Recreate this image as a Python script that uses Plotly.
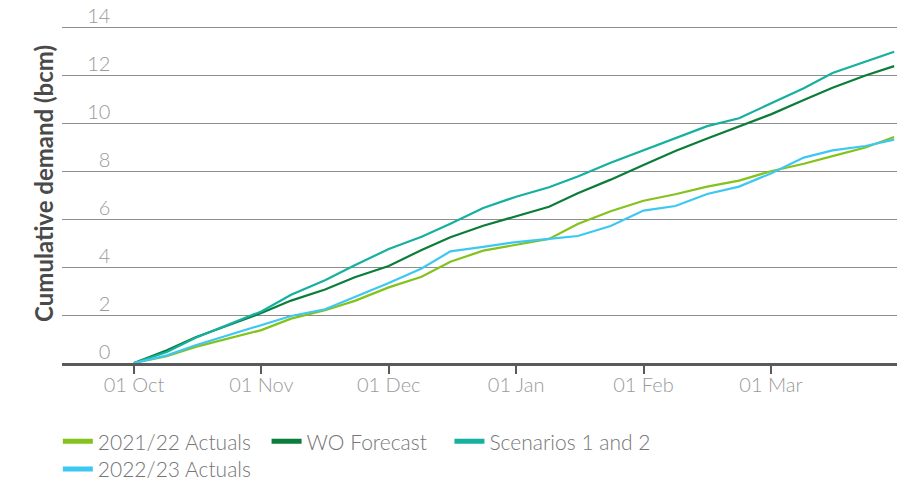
import pandas as pd
import plotly.graph_objects as go

# Sample dates through the gas year (October to March)
dates = [
    "2022-10-01", "2022-10-09", "2022-10-16", "2022-10-24",
    "2022-11-01", "2022-11-08", "2022-11-16", "2022-11-23",
    "2022-12-01", "2022-12-09", "2022-12-16", "2022-12-24",
    "2023-01-01", "2023-01-09", "2023-01-16", "2023-01-24",
    "2023-02-01", "2023-02-08", "2023-02-15", "2023-02-22",
    "2023-03-01", "2023-03-09", "2023-03-16", "2023-03-24",
    "2023-03-31",
]

# Cumulative demand (bcm)
actuals_2122 = [0.00, 0.28, 0.67, 1.02, 1.37, 1.85, 2.20, 2.59, 3.15, 3.59,
                4.22, 4.68, 4.93, 5.17, 5.79, 6.32, 6.76, 7.03, 7.35, 7.60,
                7.99, 8.30, 8.62, 8.98, 9.42]
wo_forecast = [0.00, 0.53, 1.07, 1.57, 2.08, 2.60, 3.06, 3.57, 4.04, 4.71,
               5.24, 5.72, 6.10, 6.51, 7.07, 7.64, 8.25, 8.83, 9.35, 9.84,
               10.36, 10.96, 11.47, 11.98, 12.37]
scenarios_1_2 = [0.00, 0.46, 1.05, 1.60, 2.15, 2.84, 3.45, 4.07, 4.75, 5.26,
                 5.80, 6.46, 6.93, 7.32, 7.77, 8.34, 8.85, 9.37, 9.87, 10.20,
                 10.80, 11.45, 12.08, 12.54, 12.97]
actuals_2223 = [0.00, 0.32, 0.74, 1.16, 1.60, 1.96, 2.24, 2.76, 3.33, 3.94,
                4.65, 4.84, 5.04, 5.17, 5.29, 5.71, 6.35, 6.54, 7.04, 7.35,
                7.90, 8.56, 8.86, 9.04, 9.31]

month_labels = ["01 Oct", "01 Nov", "01 Dec", "01 Jan", "01 Feb", "01 Mar"]
y_ticks = [0, 2, 4, 6, 8, 10, 12, 14]

series_names = ["2021/22 Actuals", "WO Forecast", "Scenarios 1 and 2", "2022/23 Actuals"]
series_values = [actuals_2122, wo_forecast, scenarios_1_2, actuals_2223]
series_colors = ["#84C21C", "#0B7D3A", "#15B09F", "#3DC7F3"]


def month_position(d):
    """Months since 1 October, with every month drawn at equal width."""
    ts = pd.Timestamp(d)
    idx = (ts.year - 2022) * 12 + ts.month - 10
    return idx + (ts.day - 1) / ts.days_in_month


x_pos = [month_position(d) for d in dates]

fig = go.Figure()

for name, vals, col in zip(series_names, series_values, series_colors):
    fig.add_trace(go.Scatter(
        x=x_pos, y=vals, mode="lines", name=name,
        line=dict(color=col, width=2.2),
        showlegend=False, hoverinfo="skip",
    ))

# Legend keys with thicker swatches, one legend box per entry
legend_ids = ["legend", "legend2", "legend3", "legend4"]
for name, col, lid in zip(series_names, series_colors, legend_ids):
    fig.add_trace(go.Scatter(
        x=[None], y=[None], mode="lines", name=name,
        line=dict(color=col, width=5), legend=lid,
    ))

legend_font = dict(family="Lato", size=21, color="#767676", weight=300)
legend_common = dict(orientation="h", xanchor="left", yanchor="middle",
                     bgcolor="rgba(0,0,0,0)", borderwidth=0, font=legend_font,
                     itemwidth=30)

fig.update_layout(
    width=911, height=482,
    margin=dict(l=62, r=14, t=24, b=119, autoexpand=False),
    plot_bgcolor="white", paper_bgcolor="white",
    font=dict(family="Lato", color="#999999"),
    xaxis=dict(
        range=[-0.565, 5.99],
        tickvals=list(range(len(month_labels))),
        ticktext=month_labels,
        showgrid=False, zeroline=False,
        showline=True, linecolor="#5a5a5a", linewidth=3,
        ticks="outside", ticklen=8, tickwidth=2, tickcolor="#5a5a5a",
        ticklabelstandoff=-6,
        tickfont=dict(family="Lato", size=20, color="#9a9a9a", weight=300),
    ),
    yaxis=dict(
        range=[0, 14.125],
        tickvals=y_ticks,
        anchor="free", position=0.058,
        showgrid=True, gridcolor="#8e8e8e", gridwidth=1.4,
        zeroline=False, showline=False, ticks="",
        ticklabelshift=-11,
        tickfont=dict(family="Lato", size=20, color="#9a9a9a", weight=300),
    ),
    legend=dict(x=-0.005, y=-0.232, **legend_common),
    legend2=dict(x=0.245, y=-0.232, **legend_common),
    legend3=dict(x=0.464, y=-0.232, **legend_common),
    legend4=dict(x=-0.005, y=-0.314, **legend_common),
    annotations=[dict(
        text="Cumulative demand (bcm)", textangle=-90,
        xref="paper", yref="paper", x=-0.022, y=0.53,
        xanchor="center", yanchor="middle", showarrow=False,
        font=dict(family="Lato", size=24, color="#4a4a4a", weight=700),
    )],
)

fig.write_html("out.html")
